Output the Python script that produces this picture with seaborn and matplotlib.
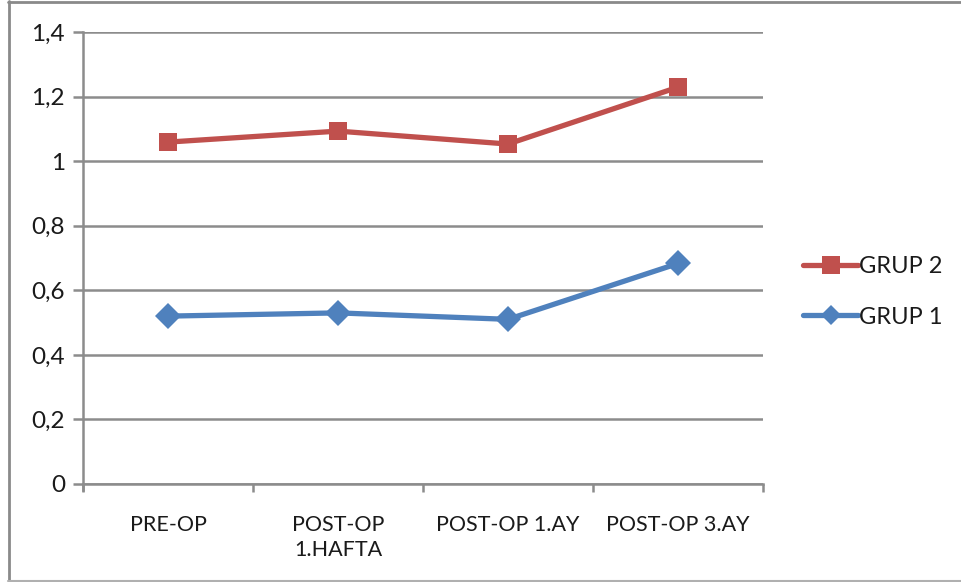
import matplotlib
matplotlib.use("Agg")
import matplotlib.pyplot as plt
from matplotlib.lines import Line2D
from matplotlib.ticker import FixedLocator, FuncFormatter
import pandas as pd
import seaborn as sns

categories = ["PRE-OP", "POST-OP\n1.HAFTA", "POST-OP 1.AY", "POST-OP 3.AY"]
grup2 = [1.059, 1.093, 1.053, 1.229]
grup1 = [0.520, 0.530, 0.510, 0.683]
series_names = ["GRUP 2", "GRUP 1"]
y_ticks = [0, 0.2, 0.4, 0.6, 0.8, 1.0, 1.2, 1.4]

red = "#C0504D"
blue = "#4F81BD"
grid_col = "#8C8C8C"
text_col = "#1A1A1A"

sns.set_theme(style="white")
plt.rcParams["font.family"] = ["Lato", "DejaVu Sans"]

df = pd.DataFrame({
    "pos": list(range(len(categories))) * 2,
    "value": grup2 + grup1,
    "group": [series_names[0]] * len(categories) + [series_names[1]] * len(categories),
})

W, H = 962, 582
fig = plt.figure(figsize=(W / 100, H / 100), dpi=100)
ax = fig.add_axes([83 / W, (H - 484) / H, (763 - 83) / W, (484 - 32) / H])

# outer chart frame: top, left and bottom edges
def px(x, y):
    return x / W, 1 - y / H

for (x0, y0), (x1, y1), c, lw in [((8, 1.5), (962, 1.5), "#8A8A8A", 2.0),
                                  ((8.5, 1), (8.5, 581), "#8A8A8A", 2.0),
                                  ((8, 580.5), (962, 580.5), "#B0B0B0", 1.5)]:
    a, b = px(x0, y0)
    c2, d = px(x1, y1)
    fig.add_artist(Line2D([a, c2], [b, d], color=c, linewidth=lw, transform=fig.transFigure))

sns.lineplot(data=df, x="pos", y="value", hue="group", style="group",
             hue_order=series_names, style_order=series_names,
             palette={series_names[0]: red, series_names[1]: blue},
             markers={series_names[0]: "s", series_names[1]: "D"},
             dashes=False, linewidth=3.8, markersize=13, markeredgewidth=0,
             ax=ax, legend=False, zorder=3)

ax.set_xlim(-0.5, len(categories) - 0.5)
ax.set_ylim(0, 1.4)
ax.yaxis.set_major_locator(FixedLocator(y_ticks))
ax.yaxis.set_major_formatter(FuncFormatter(lambda v, p: ("%g" % round(v, 1)).replace(".", ",")))
ax.grid(axis="y", color=grid_col, linewidth=1.8, zorder=1)
ax.grid(axis="x", visible=False)

ax.set_xticks(range(len(categories)))
ax.set_xticklabels(categories, fontsize=15.5, color=text_col, linespacing=1.35, va="top")
ax.xaxis.set_minor_locator(FixedLocator([i + 0.5 for i in range(-1, len(categories))]))
ax.tick_params(axis="x", which="major", length=0, pad=22)
ax.tick_params(axis="x", which="minor", length=6, width=1.8, color=grid_col, bottom=True)
ax.tick_params(axis="y", which="major", length=7, width=1.8, color=grid_col, left=True,
               labelsize=17.5, labelcolor=text_col, pad=6)

for s in ["top", "right"]:
    ax.spines[s].set_visible(False)
for s in ["left", "bottom"]:
    ax.spines[s].set_color(grid_col)
    ax.spines[s].set_linewidth(1.8)
ax.spines["left"].set_bounds(-0.018, 1.4)
ax.set_xlabel("")
ax.set_ylabel("")

handles = [
    Line2D([], [], color=red, linewidth=3.8, marker="s", markersize=13, markeredgewidth=0),
    Line2D([], [], color=blue, linewidth=3.8, marker="D", markersize=10, markeredgewidth=0),
]
fig.legend(handles, series_names, loc="center left", bbox_to_anchor=(791 / W, 1 - 292 / H),
           frameon=False, fontsize=17, handlelength=2.35, handletextpad=0.05,
           labelspacing=1.25, borderpad=0, labelcolor=text_col)

fig.savefig("out.png", dpi=100)
